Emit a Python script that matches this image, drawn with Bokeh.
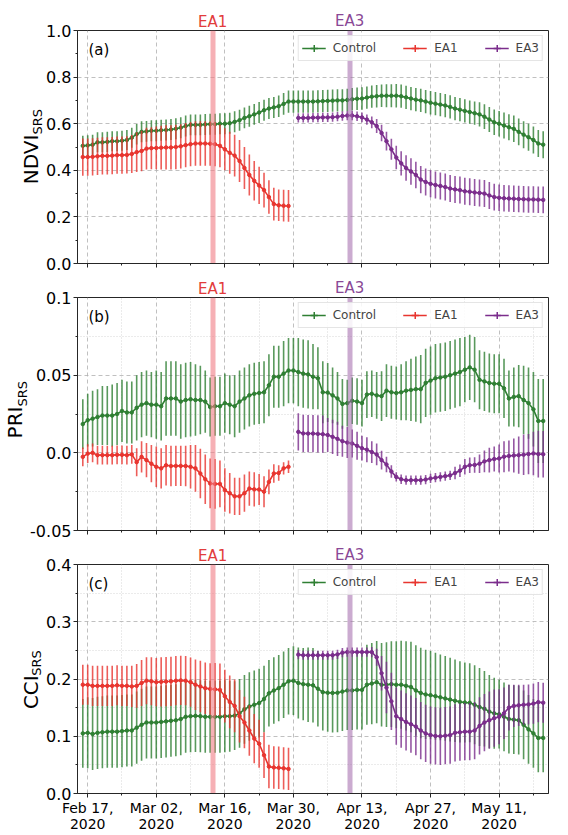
import pandas as pd
from bokeh.plotting import figure
from bokeh.layouts import column
from bokeh.models import (Range1d, FixedTicker, Label, Legend, LegendItem, ColumnDataSource,
                          LinearAxis)
from bokeh.embed import file_html
from bokeh.resources import INLINE

FONT = "DejaVu Sans"
GREEN = "#2f7f33"
RED = "#e8352f"
PURPLE = "#7b2d8c"

# ---------------- data ----------------
ctrl_dates = pd.date_range("2020-02-16", "2020-05-20", freq="D")
ea1_dates = pd.date_range("2020-02-16", "2020-03-29", freq="D")
ea3_dates = pd.date_range("2020-03-31", "2020-05-20", freq="D")

x_tick_dates = ["2020-02-17", "2020-03-02", "2020-03-16", "2020-03-30", "2020-04-13", "2020-04-27", "2020-05-11"]
x_tick_labels = ["Feb 17,\n2020", "Mar 02,\n2020", "Mar 16,\n2020", "Mar 30,\n2020",
                 "Apr 13,\n2020", "Apr 27,\n2020", "May 11,\n2020"]
x_minor_dates = ["2020-02-24", "2020-03-09", "2020-03-23", "2020-04-06", "2020-04-20", "2020-05-04", "2020-05-18"]

series_names = ["Control", "EA1", "EA3"]
ea_names = ["EA1", "EA3"]
ea_start = ["2020-03-13", "2020-04-10"]
ea_end = ["2020-03-14", "2020-04-11"]

ndvi_ticks = [0.0, 0.2, 0.4, 0.6, 0.8, 1.0]
ndvi_tick_labels = ["0.0", "0.2", "0.4", "0.6", "0.8", "1.0"]
ndvi_minor = [0.1, 0.3, 0.5, 0.7, 0.9]
pri_ticks = [-0.05, 0.0, 0.05, 0.1]
pri_tick_labels = ["-0.05", "0.0", "0.05", "0.1"]
pri_minor = [-0.025, 0.025, 0.075]
cci_ticks = [0.0, 0.1, 0.2, 0.3, 0.4]
cci_tick_labels = ["0.0", "0.1", "0.2", "0.3", "0.4"]
cci_minor = [0.05, 0.15, 0.25, 0.35]

ndvi_ctrl = [0.505, 0.507, 0.510, 0.520, 0.520, 0.522, 0.525, 0.525, 0.527, 0.530,
             0.540, 0.555, 0.565, 0.567, 0.570, 0.570, 0.572, 0.573, 0.575, 0.578,
             0.583, 0.590, 0.595, 0.595, 0.595, 0.597, 0.598, 0.598, 0.600, 0.600,
             0.602, 0.608, 0.615, 0.625, 0.632, 0.640, 0.648, 0.658, 0.665, 0.670,
             0.675, 0.685, 0.695, 0.695, 0.695, 0.695, 0.695, 0.695, 0.696, 0.697,
             0.698, 0.699, 0.700, 0.700, 0.702, 0.705, 0.707, 0.708, 0.712, 0.716,
             0.718, 0.720, 0.720, 0.720, 0.720, 0.718, 0.713, 0.708, 0.703, 0.700,
             0.695, 0.690, 0.686, 0.682, 0.678, 0.672, 0.665, 0.660, 0.655, 0.650,
             0.645, 0.640, 0.630, 0.618, 0.606, 0.600, 0.592, 0.585, 0.578, 0.565,
             0.553, 0.542, 0.530, 0.515, 0.510]
ndvi_ctrl_err = [0.043, 0.043, 0.043, 0.043, 0.043, 0.043, 0.043, 0.043, 0.043, 0.043,
                 0.043, 0.044, 0.045, 0.045, 0.045, 0.045, 0.045, 0.045, 0.045, 0.045,
                 0.045, 0.045, 0.045, 0.045, 0.045, 0.045, 0.045, 0.045, 0.045, 0.045,
                 0.045, 0.045, 0.045, 0.045, 0.045, 0.045, 0.045, 0.045, 0.045, 0.045,
                 0.046, 0.047, 0.048, 0.048, 0.048, 0.048, 0.048, 0.048, 0.048, 0.048,
                 0.048, 0.048, 0.048, 0.048, 0.048, 0.048, 0.048, 0.048, 0.048, 0.048,
                 0.048, 0.048, 0.049, 0.049, 0.050, 0.050, 0.050, 0.050, 0.050, 0.050,
                 0.050, 0.050, 0.050, 0.050, 0.050, 0.050, 0.050, 0.050, 0.050, 0.050,
                 0.050, 0.052, 0.053, 0.054, 0.055, 0.055, 0.056, 0.056, 0.057, 0.057,
                 0.058, 0.058, 0.058, 0.058, 0.058]
ndvi_ea1 = [0.457, 0.457, 0.458, 0.460, 0.462, 0.462, 0.463, 0.465, 0.465, 0.466,
            0.470, 0.478, 0.483, 0.493, 0.495, 0.496, 0.497, 0.498, 0.498, 0.500,
            0.503, 0.508, 0.512, 0.515, 0.515, 0.515, 0.514, 0.512, 0.505, 0.490,
            0.475, 0.463, 0.440, 0.410, 0.380, 0.355, 0.335, 0.315, 0.285, 0.255,
            0.250, 0.248, 0.247]
ndvi_ea1_err = [0.080, 0.080, 0.080, 0.080, 0.080, 0.080, 0.080, 0.080, 0.080, 0.080,
                0.082, 0.085, 0.087, 0.090, 0.090, 0.092, 0.094, 0.095, 0.095, 0.095,
                0.095, 0.095, 0.095, 0.095, 0.095, 0.095, 0.095, 0.095, 0.092, 0.090,
                0.090, 0.090, 0.090, 0.090, 0.088, 0.085, 0.080, 0.075, 0.072, 0.070,
                0.068, 0.068, 0.068]
ndvi_ea3 = [0.625, 0.625, 0.625, 0.626, 0.626, 0.627, 0.627, 0.628, 0.630, 0.633,
            0.635, 0.635, 0.632, 0.627, 0.618, 0.606, 0.590, 0.560, 0.525, 0.490,
            0.455, 0.430, 0.410, 0.395, 0.380, 0.360, 0.350, 0.342, 0.337, 0.333,
            0.328, 0.322, 0.318, 0.315, 0.310, 0.308, 0.305, 0.303, 0.300, 0.292,
            0.285, 0.282, 0.280, 0.279, 0.278, 0.277, 0.276, 0.275, 0.275, 0.274,
            0.273]
ndvi_ea3_err = [0.020, 0.020, 0.020, 0.020, 0.020, 0.020, 0.020, 0.020, 0.020, 0.020,
                0.020, 0.020, 0.020, 0.021, 0.022, 0.025, 0.030, 0.035, 0.040, 0.045,
                0.050, 0.052, 0.055, 0.057, 0.057, 0.058, 0.058, 0.058, 0.058, 0.058,
                0.058, 0.058, 0.058, 0.058, 0.058, 0.058, 0.058, 0.058, 0.058, 0.058,
                0.057, 0.057, 0.057, 0.057, 0.057, 0.057, 0.057, 0.057, 0.057, 0.057,
                0.057]

pri_ctrl = [0.0185, 0.021, 0.022, 0.023, 0.024, 0.024, 0.024, 0.025, 0.027, 0.026,
            0.026, 0.029, 0.031, 0.032, 0.031, 0.031, 0.030, 0.035, 0.035, 0.035,
            0.033, 0.034, 0.0345, 0.034, 0.034, 0.033, 0.0295, 0.030, 0.030, 0.032,
            0.031, 0.030, 0.033, 0.035, 0.037, 0.038, 0.0385, 0.039, 0.0435, 0.049,
            0.049, 0.051, 0.053, 0.053, 0.052, 0.051, 0.0505, 0.049, 0.048, 0.039,
            0.0388, 0.037, 0.035, 0.0315, 0.032, 0.0335, 0.033, 0.032, 0.0375, 0.038,
            0.037, 0.0365, 0.040, 0.039, 0.0385, 0.039, 0.040, 0.0405, 0.041, 0.041,
            0.045, 0.0465, 0.048, 0.0485, 0.049, 0.050, 0.051, 0.052, 0.0535, 0.055,
            0.0535, 0.047, 0.046, 0.045, 0.0445, 0.0445, 0.0415, 0.035, 0.036, 0.0365,
            0.034, 0.032, 0.028, 0.0205, 0.0205]
pri_ctrl_err = [0.016, 0.017, 0.018, 0.018, 0.019, 0.019, 0.020, 0.020, 0.020, 0.020,
                0.020, 0.021, 0.021, 0.021, 0.021, 0.022, 0.022, 0.024, 0.024, 0.024,
                0.024, 0.024, 0.024, 0.023, 0.022, 0.020, 0.019, 0.019, 0.019, 0.019,
                0.019, 0.020, 0.020, 0.020, 0.020, 0.020, 0.020, 0.020, 0.020, 0.020,
                0.020, 0.021, 0.021, 0.021, 0.022, 0.022, 0.022, 0.021, 0.020, 0.020,
                0.019, 0.018, 0.017, 0.016, 0.015, 0.015, 0.015, 0.015, 0.015, 0.015,
                0.015, 0.016, 0.017, 0.017, 0.017, 0.018, 0.019, 0.020, 0.021, 0.022,
                0.022, 0.022, 0.022, 0.022, 0.022, 0.022, 0.022, 0.022, 0.021, 0.021,
                0.021, 0.019, 0.019, 0.019, 0.019, 0.019, 0.019, 0.018, 0.019, 0.020,
                0.022, 0.023, 0.024, 0.027, 0.027]
pri_ea1 = [-0.0026, -0.0005, 0.0, -0.0015, -0.0015, -0.0015, -0.0015, -0.0013, -0.0013, -0.0015,
           -0.001, -0.006, -0.0026, -0.0047, -0.007, -0.009, -0.010, -0.008, -0.0085, -0.0084,
           -0.0084, -0.0085, -0.009, -0.010, -0.0133, -0.017, -0.0197, -0.020, -0.020, -0.024,
           -0.026, -0.028, -0.028, -0.026, -0.023, -0.0235, -0.0236, -0.025, -0.0187, -0.0133,
           -0.013, -0.010, -0.009]
pri_ea1_err = [0.006, 0.006, 0.006, 0.006, 0.006, 0.006, 0.006, 0.006, 0.006, 0.006,
               0.006, 0.009, 0.010, 0.011, 0.012, 0.013, 0.013, 0.013, 0.013, 0.013,
               0.013, 0.013, 0.014, 0.015, 0.016, 0.016, 0.016, 0.016, 0.015, 0.014,
               0.013, 0.012, 0.012, 0.012, 0.011, 0.011, 0.010, 0.010, 0.008, 0.006,
               0.005, 0.004, 0.004]
pri_ea3 = [0.0135, 0.0125, 0.0124, 0.0124, 0.0122, 0.012, 0.0115, 0.0103, 0.009, 0.0075,
           0.0066, 0.006, 0.0045, 0.003, 0.002, 0.0005, -0.001, -0.0047, -0.0075, -0.012,
           -0.0155, -0.017, -0.0176, -0.0176, -0.0176, -0.0176, -0.0172, -0.0165, -0.016, -0.0155,
           -0.015, -0.0145, -0.013, -0.0115, -0.009, -0.008, -0.0078, -0.007, -0.0055, -0.0047,
           -0.004, -0.0036, -0.0025, -0.002, -0.0017, -0.0015, -0.0012, -0.0008, -0.0004, -0.0008,
           -0.0009]
pri_ea3_err = [0.012, 0.012, 0.012, 0.012, 0.012, 0.012, 0.011, 0.011, 0.011, 0.010,
               0.010, 0.009, 0.009, 0.008, 0.008, 0.007, 0.007, 0.006, 0.005, 0.004,
               0.003, 0.003, 0.003, 0.003, 0.003, 0.003, 0.003, 0.003, 0.003, 0.003,
               0.003, 0.003, 0.004, 0.004, 0.005, 0.005, 0.005, 0.006, 0.007, 0.008,
               0.008, 0.009, 0.010, 0.010, 0.011, 0.012, 0.013, 0.013, 0.014, 0.015,
               0.015]

cci_ctrl = [0.105, 0.106, 0.104, 0.106, 0.107, 0.108, 0.108, 0.108, 0.109, 0.110,
            0.110, 0.115, 0.120, 0.124, 0.124, 0.124, 0.125, 0.126, 0.127, 0.128,
            0.130, 0.134, 0.135, 0.1356, 0.135, 0.134, 0.134, 0.134, 0.134, 0.135,
            0.135, 0.136, 0.140, 0.147, 0.152, 0.155, 0.158, 0.165, 0.175, 0.180,
            0.184, 0.190, 0.196, 0.197, 0.193, 0.191, 0.190, 0.189, 0.183, 0.177,
            0.176, 0.1757, 0.176, 0.178, 0.180, 0.180, 0.181, 0.181, 0.190, 0.192,
            0.1945, 0.190, 0.190, 0.191, 0.190, 0.190, 0.188, 0.186, 0.180, 0.1757,
            0.173, 0.1717, 0.170, 0.168, 0.166, 0.164, 0.162, 0.160, 0.159, 0.1585,
            0.155, 0.151, 0.148, 0.143, 0.140, 0.1385, 0.134, 0.130, 0.129, 0.128,
            0.120, 0.112, 0.105, 0.097, 0.097]
cci_ctrl_err = [0.060, 0.062, 0.063, 0.063, 0.063, 0.063, 0.063, 0.063, 0.063, 0.063,
                0.063, 0.063, 0.063, 0.063, 0.063, 0.063, 0.063, 0.063, 0.063, 0.063,
                0.063, 0.063, 0.063, 0.063, 0.063, 0.063, 0.063, 0.063, 0.063, 0.063,
                0.062, 0.060, 0.060, 0.060, 0.060, 0.060, 0.060, 0.058, 0.058, 0.058,
                0.058, 0.058, 0.058, 0.060, 0.062, 0.063, 0.065, 0.065, 0.066, 0.067,
                0.068, 0.069, 0.069, 0.069, 0.069, 0.069, 0.069, 0.069, 0.070, 0.071,
                0.072, 0.073, 0.074, 0.075, 0.076, 0.077, 0.078, 0.079, 0.079, 0.079,
                0.078, 0.077, 0.076, 0.075, 0.074, 0.073, 0.072, 0.071, 0.070, 0.069,
                0.069, 0.068, 0.066, 0.064, 0.062, 0.060, 0.060, 0.060, 0.060, 0.060,
                0.060, 0.060, 0.060, 0.060, 0.060]
cci_ea1 = [0.190, 0.190, 0.188, 0.188, 0.188, 0.188, 0.188, 0.189, 0.188, 0.188,
           0.187, 0.188, 0.193, 0.197, 0.196, 0.1945, 0.195, 0.1955, 0.196, 0.197,
           0.1975, 0.197, 0.1945, 0.190, 0.187, 0.184, 0.1826, 0.182, 0.181, 0.170,
           0.160, 0.153, 0.135, 0.124, 0.110, 0.096, 0.087, 0.067, 0.047, 0.0455,
           0.045, 0.044, 0.043]
cci_ea1_err = [0.035, 0.035, 0.035, 0.035, 0.035, 0.035, 0.035, 0.035, 0.035, 0.035,
               0.036, 0.038, 0.040, 0.041, 0.042, 0.042, 0.043, 0.043, 0.043, 0.043,
               0.043, 0.043, 0.043, 0.044, 0.045, 0.045, 0.045, 0.046, 0.046, 0.046,
               0.046, 0.046, 0.046, 0.045, 0.044, 0.043, 0.042, 0.040, 0.038, 0.037,
               0.037, 0.037, 0.037]
cci_ea3 = [0.2426, 0.2415, 0.2415, 0.2415, 0.2415, 0.2415, 0.2415, 0.2415, 0.243, 0.246,
           0.247, 0.247, 0.247, 0.247, 0.247, 0.247, 0.238, 0.210, 0.185, 0.161,
           0.135, 0.130, 0.125, 0.121, 0.117, 0.110, 0.105, 0.102, 0.1005, 0.100,
           0.101, 0.102, 0.106, 0.107, 0.108, 0.108, 0.110, 0.118, 0.124, 0.128,
           0.1316, 0.134, 0.140, 0.150, 0.153, 0.154, 0.155, 0.1556, 0.157, 0.1596,
           0.1585]
cci_ea3_err = [0.008, 0.008, 0.008, 0.008, 0.008, 0.008, 0.008, 0.008, 0.008, 0.008,
               0.008, 0.008, 0.008, 0.008, 0.008, 0.009, 0.015, 0.030, 0.045, 0.050,
               0.050, 0.050, 0.050, 0.050, 0.050, 0.050, 0.050, 0.050, 0.050, 0.050,
               0.050, 0.050, 0.050, 0.050, 0.050, 0.050, 0.050, 0.050, 0.050, 0.050,
               0.050, 0.048, 0.045, 0.040, 0.037, 0.036, 0.035, 0.035, 0.035, 0.035,
               0.035]

# ---------------- helpers ----------------
def ms(d):
    return int(pd.Timestamp(d).value // 10**6)

FRAME_H = 233
x_start = pd.Timestamp("2020-02-14 22:00")
x_end = pd.Timestamp("2020-05-21 02:00")
xr = Range1d(start=x_start, end=x_end)
x_major = [ms(d) for d in x_tick_dates]
x_minor = [ms(d) for d in x_minor_dates]
ea_mid = [(ms(s) + ms(e)) // 2 for s, e in zip(ea_start, ea_end)]
ea_text_colors = ["#e23c3c", "#8a4896"]
AXC = "#262626"


def add_series(p, dates, mean, err, color):
    lo = [m - e for m, e in zip(mean, err)]
    hi = [m + e for m, e in zip(mean, err)]
    src = ColumnDataSource(dict(x=list(dates), y=mean, lo=lo, hi=hi))
    p.segment(x0="x", y0="lo", x1="x", y1="hi", source=src,
              line_color=color, line_width=1.6, line_alpha=0.8)
    ln = p.line("x", "y", source=src, line_color=color, line_width=1.6)
    p.scatter("x", "y", source=src, size=3.5, color=color)
    # zero-size cross: invisible in the plot, gives the "+" errorbar glyph in the legend
    cr = p.scatter("x", "y", source=src, marker="cross", size=0, line_color=color, line_width=1.5)
    return [ln, cr]


def text_axis(ticks, labels, color, size, standoff, orientation="horizontal"):
    ax = LinearAxis(ticker=FixedTicker(ticks=ticks, minor_ticks=[]),
                    major_label_overrides={t: l for t, l in zip(ticks, labels)},
                    major_label_orientation=orientation,
                    major_label_standoff=standoff,
                    major_label_text_font=FONT, major_label_text_font_size=size,
                    major_label_text_color=color,
                    axis_line_color=None, major_tick_line_color=None, minor_tick_line_color=None,
                    major_tick_out=0, major_tick_in=0, minor_tick_out=0, minor_tick_in=0)
    return ax


def make_panel(letter, lab_main, lab_sub, main_len, junction_px, s_sub, s_main,
               ylo, yhi, yticks, ylabels, yminor, series, top, bottom, last, minor_grid):
    height = top + FRAME_H + bottom
    p = figure(width=560, height=height, x_axis_type="datetime", x_range=xr,
               y_range=Range1d(ylo, yhi), output_backend="svg", toolbar_location=None,
               min_border_left=74, min_border_right=12, min_border_top=top,
               min_border_bottom=bottom, background_fill_color="white",
               border_fill_color="white")
    xt = FixedTicker(ticks=x_major, minor_ticks=x_minor)
    yt = FixedTicker(ticks=yticks, minor_ticks=yminor)
    p.xaxis.ticker = xt
    p.xgrid.ticker = xt
    p.yaxis.ticker = yt
    p.ygrid.ticker = yt
    p.yaxis.major_label_overrides = {t: l for t, l in zip(yticks, ylabels)}
    if last:
        p.xaxis.major_label_overrides = {t: l for t, l in zip(x_major, x_tick_labels)}
        p.xaxis.major_label_text_font_size = "14px"
        p.xaxis.major_label_text_line_height = 1.05
        p.xaxis.major_label_standoff = 2
    else:
        p.xaxis.major_label_overrides = {t: "" for t in x_major}
        p.xaxis.major_label_text_font_size = "0px"
        p.xaxis.major_label_standoff = 0
    for ax in (p.xaxis, p.yaxis):
        ax.axis_line_color = AXC
        ax.major_tick_line_color = AXC
        ax.minor_tick_line_color = AXC
        ax.major_tick_out = 4
        ax.major_tick_in = 0
        ax.minor_tick_out = 2
        ax.minor_tick_in = 0
        ax.major_label_text_font = FONT
        ax.major_label_text_color = "black"
    p.yaxis.major_label_text_font_size = "16px"
    p.yaxis.major_label_standoff = 2
    for g in (p.xgrid, p.ygrid):
        g.grid_line_color = "#b0b0b0"
        g.grid_line_dash = "4 3"
        g.grid_line_width = 0.8
        if minor_grid:
            g.minor_grid_line_color = "#cdcdcd"
            g.minor_grid_line_dash = "1 2"
            g.minor_grid_line_width = 0.8
    p.outline_line_color = AXC
    p.outline_line_width = 1

    renderers = [add_series(p, d, m, e, c) for (d, m, e, c) in series]

    # treatment application bands
    p.vstrip(x0=[pd.Timestamp(ea_start[0])], x1=[pd.Timestamp(ea_end[0])],
             fill_color="#f07c84", fill_alpha=0.6, line_color=None)
    p.vstrip(x0=[pd.Timestamp(ea_start[1])], x1=[pd.Timestamp(ea_end[1])],
             fill_color="#a066aa", fill_alpha=0.55, line_color=None)

    # EA labels above the frame (tick labels of two label-only axes, same row)
    p.add_layout(text_axis([ea_mid[0]], [ea_names[0]], ea_text_colors[0], "15px", 0), "above")
    p.add_layout(text_axis([ea_mid[1]], [ea_names[1]], ea_text_colors[1], "15px", -20), "above")

    # y label with subscript (tick labels of two label-only axes, rotated)
    def y_at(px_from_top):
        return yhi - (px_from_top / FRAME_H) * (yhi - ylo)
    sub_len = 25.5
    y_main = y_at(junction_px + main_len / 2)
    y_sub = y_at(junction_px - sub_len / 2)
    p.add_layout(text_axis([y_sub], [lab_sub], "black", "13px", s_sub, "parallel"), "left")
    p.add_layout(text_axis([y_main], [lab_main], "black", "20px", s_main, "parallel"), "left")

    p.add_layout(Label(x=ms(x_start), y=yhi, x_offset=11, y_offset=-19, text=f"({letter})",
                       text_align="left", text_baseline="middle", text_font=FONT,
                       text_font_size="15px", text_color="black"))

    legend = Legend(items=[LegendItem(label=n, renderers=r) for n, r in zip(series_names, renderers)],
                    location="top_right", orientation="horizontal",
                    label_text_font=FONT, label_text_font_size="12px",
                    glyph_width=24, glyph_height=18, label_height=18, label_standoff=7,
                    spacing=27, padding=3, margin=5, border_line_color="#cccccc",
                    border_line_width=1, background_fill_alpha=0.85)
    p.add_layout(legend)
    return p


p1 = make_panel("a", "NDVI", "SRS", 49.9, 104.0, -1, -17, 0.0, 1.0,
                ndvi_ticks, ndvi_tick_labels, ndvi_minor,
                [(ctrl_dates, ndvi_ctrl, ndvi_ctrl_err, GREEN),
                 (ea1_dates, ndvi_ea1, ndvi_ea1_err, RED),
                 (ea3_dates, ndvi_ea3, ndvi_ea3_err, PURPLE)],
                top=30, bottom=10, last=False, minor_grid=False)
p2 = make_panel("b", "PRI", "SRS", 31.9, 109.0, -2, -16, -0.05, 0.1,
                pri_ticks, pri_tick_labels, pri_minor,
                [(ctrl_dates, pri_ctrl, pri_ctrl_err, GREEN),
                 (ea1_dates, pri_ea1, pri_ea1_err, RED),
                 (ea3_dates, pri_ea3, pri_ea3_err, PURPLE)],
                top=24, bottom=10, last=False, minor_grid=True)
p3 = make_panel("c", "CCI", "SRS", 33.8, 113.0, -1, -17, 0.0, 0.4,
                cci_ticks, cci_tick_labels, cci_minor,
                [(ctrl_dates, cci_ctrl, cci_ctrl_err, GREEN),
                 (ea1_dates, cci_ea1, cci_ea1_err, RED),
                 (ea3_dates, cci_ea3, cci_ea3_err, PURPLE)],
                top=24, bottom=38, last=True, minor_grid=True)

layout = column(p1, p2, p3)
open("out.html", "w").write(file_html(layout, INLINE))
